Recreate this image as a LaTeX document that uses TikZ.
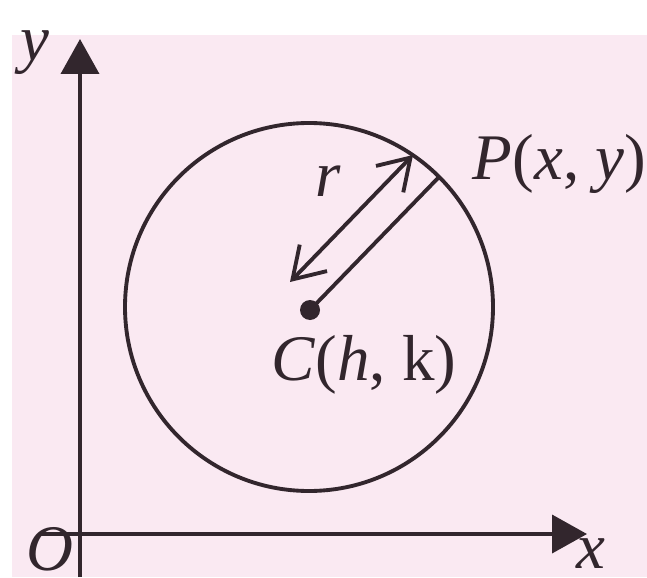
\documentclass[tikz,border=0pt]{standalone}
\usepackage{fontspec}
\setmainfont{Liberation Serif}
\usetikzlibrary{arrows.meta}
\definecolor{pinkbg}{RGB}{250,233,242}
\definecolor{ink}{RGB}{50,38,45}
\newcommand{\lab}[1]{\textit{#1}}

\begin{document}
\begin{tikzpicture}[line width=1.1pt, ink, font=\fontsize{18.5}{22}\selectfont, inner sep=0pt,
    axis/.style={-{Triangle[length=3.5mm,width=3.8mm]}},
    radarrow/.style={{Straight Barb[length=3mm,width=3.8mm]}-{Straight Barb[length=3mm,width=3.8mm]}}]
    \useasboundingbox (0,0) rectangle (6.47,5.77);
    \fill[white] (0,0) rectangle (6.47,5.77);
    \fill[pinkbg] (0.12,0) rectangle (6.47,5.42);

    \draw[axis] (0.80,0) -- (0.80,5.38);
    \draw[axis] (0.40,0.43) -- (5.87,0.43);
    \node (ylab) at (0.35,5.24) {\lab{y}};
    \node[anchor=south] (olab) at (0.50,0.04) {\lab{O}};
    \node[anchor=base] (xlab) at (5.91,0.09) {\lab{x}};

    \draw (3.09,2.70) circle (1.84);
    \node[circle,fill,minimum size=0.2cm] (C) at (3.10,2.67) {};
    \coordinate (P) at (4.39,4.00);
    \draw (C.center) -- (P);

    \coordinate (rlow) at (2.90,2.95);
    \coordinate (rhigh) at (4.13,4.22);
    \draw[radarrow] (rlow) -- (rhigh);

    \node[anchor=base] (rlab) at (3.28,3.80) {\lab{r}};
    \node[anchor=base] (clab) at (3.64,1.97) {\lab{C}(\lab{h}, k)};
    \node[anchor=base west] (plab) at (4.71,3.98) {\lab{P}(\lab{x}, \lab{y})};
\end{tikzpicture}
\end{document}
